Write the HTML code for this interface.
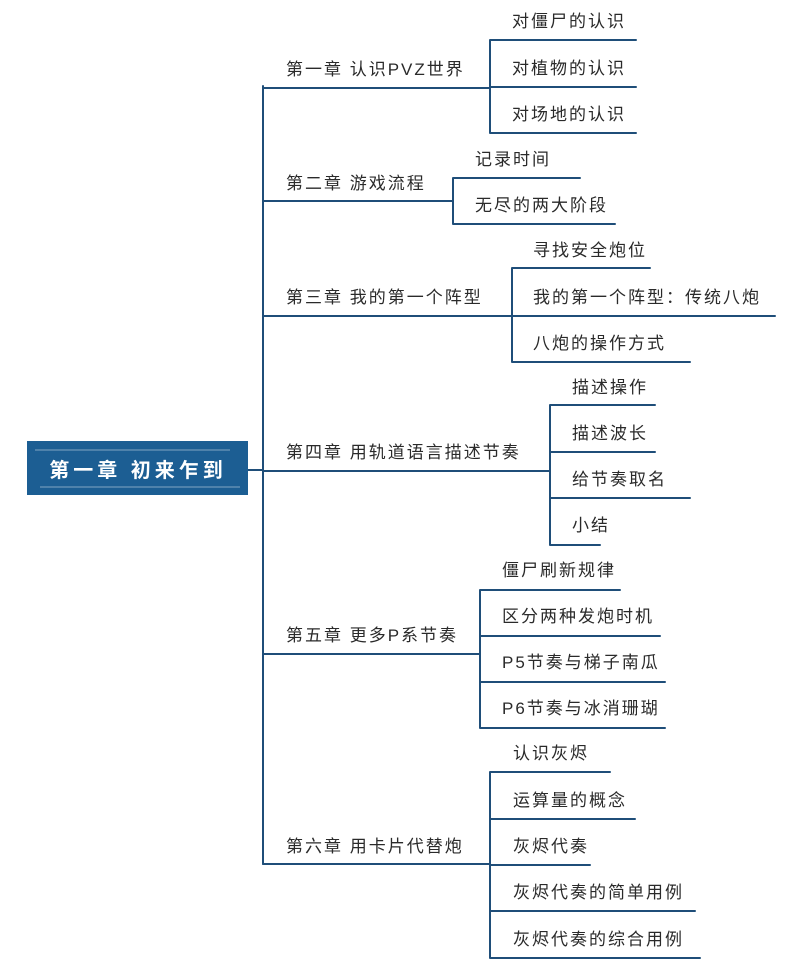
<!DOCTYPE html>
<html><head><meta charset="utf-8"><style>
html,body{margin:0;padding:0;background:#fff;}
svg text{font-family:"Liberation Sans","Noto Sans CJK SC",sans-serif;font-size:17px;fill:#2a2a2a;letter-spacing:2px;}
</style></head><body>
<svg width="800" height="975" viewBox="0 0 800 975" xmlns="http://www.w3.org/2000/svg">
<g stroke="#1f4e79" stroke-width="2" fill="none" stroke-linecap="round">
<path d="M248 470 H263 M263 86 V864"/>
<path d="M263 88 H470 M470 88 H490 M490 40 V133 M490 40 H636 M490 87 H636 M490 133 H636"/>
<path d="M263 201 H453 M453 178 V224 M453 178 H580 M453 224 H615"/>
<path d="M263 316 H512 M512 268 V362 M512 268 H650 M512 316 H775 M512 362 H690"/>
<path d="M263 471 H550 M550 405 V545 M550 405 H655 M550 452 H655 M550 498 H690 M550 545 H600"/>
<path d="M263 654 H480 M480 590 V728 M480 590 H620 M480 636 H660 M480 682 H665 M480 728 H665"/>
<path d="M263 864 H490 M490 772 V958 M490 772 H610 M490 819 H635 M490 865 H590 M490 911 H695 M490 958 H700"/>
</g>
<rect x="27" y="441" width="221" height="54" fill="#1c5e93"/>
<g stroke="#fff" stroke-width="1" opacity="0.45"><path d="M35 450 H230 M40 487 H240"/></g>
<text x="138" y="477" text-anchor="middle" style="fill:#fff;font-size:20px;font-weight:bold;letter-spacing:4px">第一章 初来乍到</text>
<text x="286" y="75">第一章 认识PVZ世界</text>
<text x="512" y="27">对僵尸的认识</text>
<text x="512" y="74">对植物的认识</text>
<text x="512" y="120">对场地的认识</text>
<text x="286" y="189">第二章 游戏流程</text>
<text x="475" y="165">记录时间</text>
<text x="475" y="211">无尽的两大阶段</text>
<text x="286" y="303">第三章 我的第一个阵型</text>
<text x="533" y="256">寻找安全炮位</text>
<text x="533" y="303">我的第一个阵型：传统八炮</text>
<text x="533" y="349">八炮的操作方式</text>
<text x="286" y="458">第四章 用轨道语言描述节奏</text>
<text x="572" y="393">描述操作</text>
<text x="572" y="439">描述波长</text>
<text x="572" y="485">给节奏取名</text>
<text x="572" y="531">小结</text>
<text x="286" y="641">第五章 更多P系节奏</text>
<text x="502" y="576">僵尸刷新规律</text>
<text x="502" y="622">区分两种发炮时机</text>
<text x="502" y="668">P5节奏与梯子南瓜</text>
<text x="502" y="714">P6节奏与冰消珊瑚</text>
<text x="286" y="852">第六章 用卡片代替炮</text>
<text x="513" y="759">认识灰烬</text>
<text x="513" y="806">运算量的概念</text>
<text x="513" y="852">灰烬代奏</text>
<text x="513" y="898">灰烬代奏的简单用例</text>
<text x="513" y="945">灰烬代奏的综合用例</text>
</svg>
</body></html>
